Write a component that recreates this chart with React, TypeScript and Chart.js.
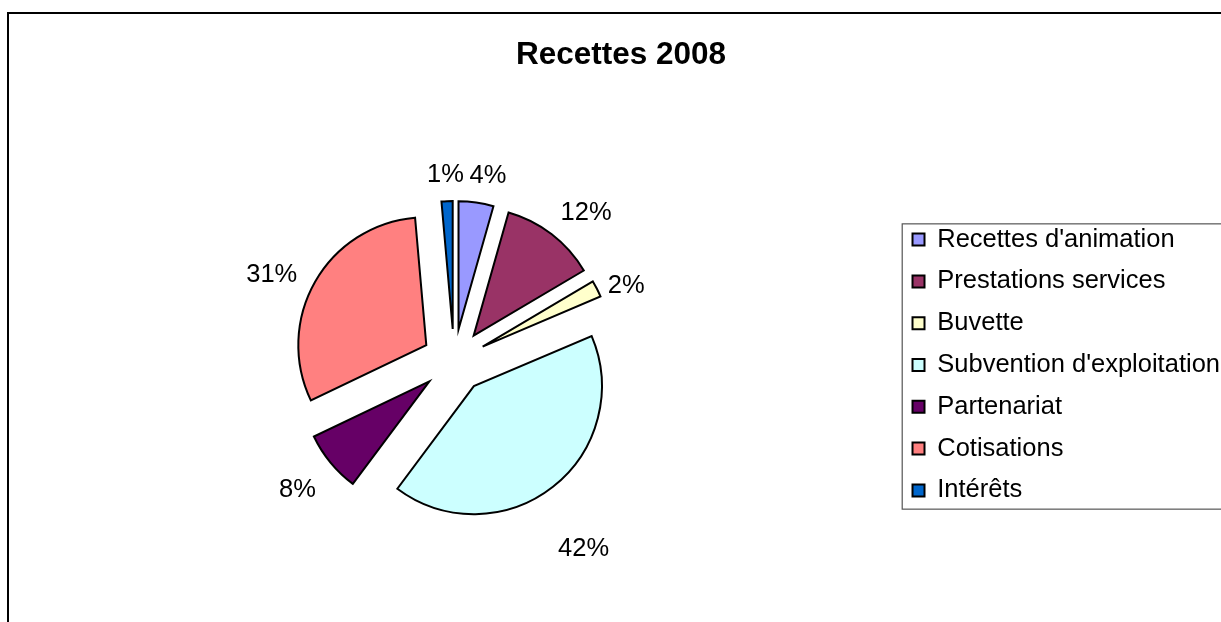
import React, { useEffect, useRef } from 'react';
import { Chart, registerables } from 'chart.js';

Chart.register(...registerables);

const categories = [
  "Recettes d'animation",
  'Prestations services',
  'Buvette',
  "Subvention d'exploitation",
  'Partenariat',
  'Cotisations',
  'Intérêts',
];
const values = [4.4, 12.1, 2.1, 41.6, 7.7, 30.7, 1.4];
const colors = ['#9999FF', '#993366', '#FFFFCC', '#CCFFFF', '#660066', '#FF8080', '#0066CC'];
const titleText = 'Recettes 2008';

const FONT = "'Liberation Sans', Arial, Helvetica, sans-serif";
const EXPLODE = 32;
const RADIUS = 128;
const LABEL_SIZE = 25.5;

const explodePlugin = {
  id: 'explodeSlices',
  beforeDatasetDraw(_chart: any, args: any) {
    args.meta.data.forEach((arc: any) => {
      const mid = (arc.startAngle + arc.endAngle) / 2;
      arc._ox = arc.x;
      arc._oy = arc.y;
      arc.x = arc.x + Math.cos(mid) * EXPLODE;
      arc.y = arc.y + Math.sin(mid) * EXPLODE;
    });
  },
  afterDatasetDraw(_chart: any, args: any) {
    args.meta.data.forEach((arc: any) => {
      arc.x = arc._ox;
      arc.y = arc._oy;
    });
  },
};

const pctLabelPlugin = {
  id: 'pctLabels',
  afterDatasetsDraw(chart: any, _args: any, opts: any) {
    const meta = chart.getDatasetMeta(0);
    const data = chart.data.datasets[0].data as number[];
    const total = data.reduce((a, b) => a + b, 0);
    const nudges: number[][] = (opts && opts.nudges) || [];
    const ctx = chart.ctx as CanvasRenderingContext2D;
    ctx.save();
    ctx.font = `${LABEL_SIZE}px ${FONT}`;
    ctx.fillStyle = '#000';
    ctx.textAlign = 'center';
    ctx.textBaseline = 'middle';
    meta.data.forEach((arc: any, i: number) => {
      const mid = (arc.startAngle + arc.endAngle) / 2;
      const d = arc.outerRadius + EXPLODE + 35;
      const n = nudges[i] || [0, 0];
      const x = arc.x + Math.cos(mid) * d + n[0];
      const y = arc.y + Math.sin(mid) * d + 8 + n[1];
      ctx.fillText(Math.round((data[i] / total) * 100) + '%', x, y);
    });
    ctx.restore();
  },
};

const legendFramePlugin = {
  id: 'legendFrame',
  afterDraw(chart: any) {
    const lg = chart.legend;
    if (!lg || !lg.legendHitBoxes || !lg.legendHitBoxes.length) return;
    const boxes = lg.legendHitBoxes;
    const first = boxes[0];
    const last = boxes[boxes.length - 1];
    const ctx = chart.ctx as CanvasRenderingContext2D;
    const x0 = lg.left + 6;
    const y0 = first.top - 3;
    const y1 = last.top + last.height + 6;
    ctx.save();
    ctx.strokeStyle = '#555';
    ctx.lineWidth = 1.2;
    ctx.strokeRect(x0, y0, chart.width + 20 - x0, y1 - y0);
    ctx.restore();
  },
};

export default function App() {
  const canvasRef = useRef<HTMLCanvasElement | null>(null);

  useEffect(() => {
    if (!canvasRef.current) return;
    const chart = new Chart(canvasRef.current, {
      type: 'pie',
      data: {
        labels: categories,
        datasets: [
          {
            data: values,
            backgroundColor: colors,
            borderColor: '#000',
            borderWidth: 2,
            borderJoinStyle: 'miter',
          } as any,
        ],
      },
      options: {
        responsive: false,
        animation: false,
        radius: RADIUS,
        layout: { padding: { left: 12, right: 12, top: 0, bottom: 0 } },
        plugins: {
          title: {
            display: true,
            text: titleText,
            color: '#000',
            font: { family: FONT, size: 31.5, weight: 'bold' },
            padding: { top: 36, bottom: 26.2 },
          },
          legend: {
            display: true,
            position: 'right',
            fullSize: false,
            align: 'center',
            title: { display: true, text: ' ', padding: 0, font: { size: 6.67 } },
            labels: {
              color: '#000',
              font: { family: FONT, size: LABEL_SIZE },
              boxWidth: 12,
              boxHeight: 12,
              padding: 16.3,
            },
          },
          tooltip: { enabled: false },
          pctLabels: {
            nudges: [[7, 0], [13, -2], [-2, 5], [9, 27], [-6, -3], [-13, 3], [0, 1]],
          },
        },
      } as any,
      plugins: [explodePlugin, pctLabelPlugin, legendFramePlugin],
    });
    return () => chart.destroy();
  }, []);

  return (
    <div
      style={{
        position: 'fixed',
        left: 0,
        top: 0,
        width: 1221,
        height: 622,
        overflow: 'hidden',
        background: '#fff',
      }}
    >
      <canvas
        ref={canvasRef}
        width={1242}
        height={622}
        style={{ position: 'absolute', left: 0, top: 0, width: 1242, height: 622 }}
      />
      <div
        style={{
          position: 'absolute',
          left: 7,
          top: 12,
          width: 1300,
          height: 700,
          borderLeft: '2px solid #000',
          borderTop: '2px solid #000',
          pointerEvents: 'none',
        }}
      />
    </div>
  );
}
